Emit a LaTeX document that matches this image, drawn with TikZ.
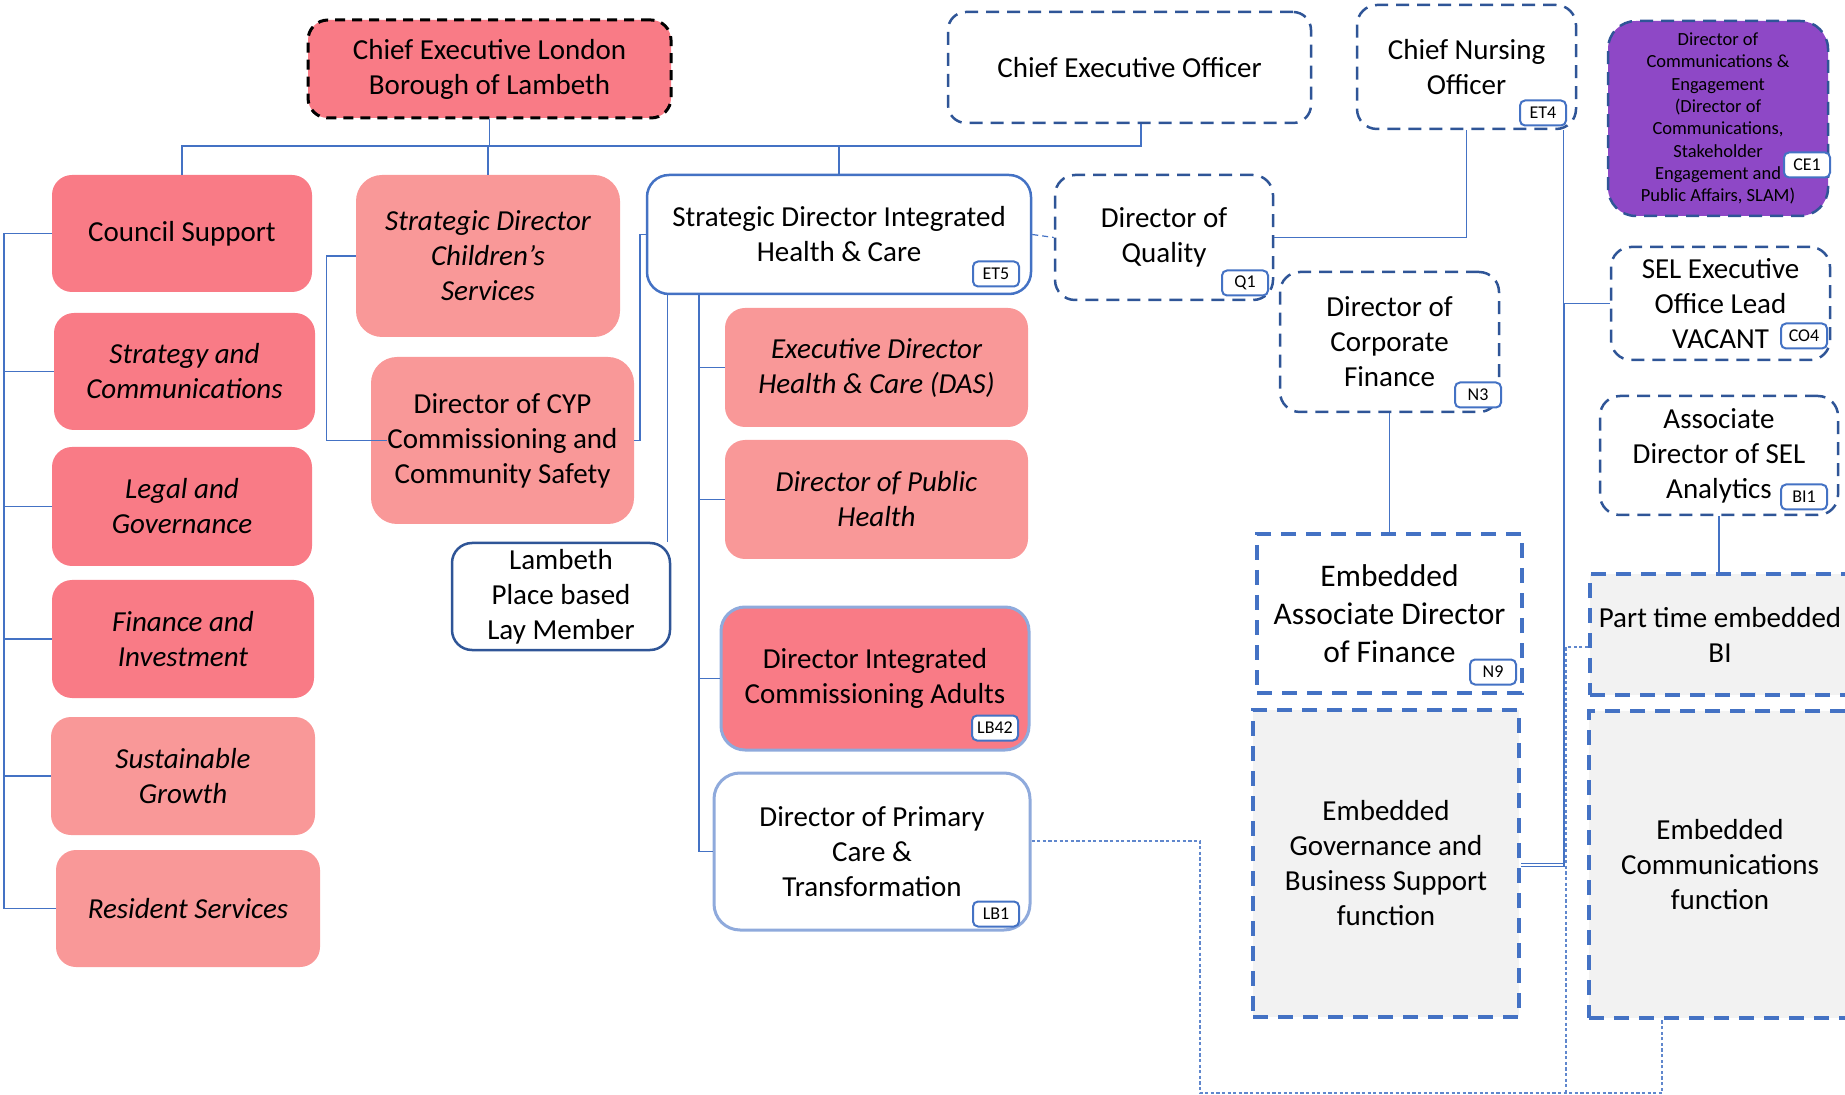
\documentclass[tikz,border=0pt]{standalone}
\usepackage{fontspec}
\setmainfont{Carlito}
\newcommand\fmain{\fontsize{14.5}{17.5}\selectfont}
\newcommand\fbig{\fontsize{15.75}{19}\selectfont}
\newcommand\fsmall{\fontsize{9.25}{11.15}\selectfont}
\newcommand\fbadge{\fontsize{9}{10}\selectfont}
\definecolor{pinkD}{HTML}{F97B86}
\definecolor{pinkL}{HTML}{F99898}
\definecolor{lnblue}{HTML}{4472C4}
\definecolor{dkblue}{HTML}{2F5597}
\definecolor{ltblue}{HTML}{8FAADC}
\definecolor{grayf}{HTML}{F2F2F2}
\definecolor{purp}{HTML}{8E48C6}
\begin{document}
\begin{tikzpicture}[x=0.5pt,y=-0.5pt,
  box/.style={align=center, inner sep=0pt, font=\fmain, text=black, rounded corners=10pt},
  pinkdark/.style={box, fill=pinkD},
  pinklight/.style={box, fill=pinkL},
  itbox/.style={font=\fmain\itshape},
  dashbox/.style={box, fill=white, draw=dkblue, line width=1.25pt, dash pattern=on 6.5pt off 4pt},
  embbox/.style={box, sharp corners, draw=lnblue, line width=2pt, dash pattern=on 7.5pt off 5pt},
  badge/.style={draw=lnblue, line width=1pt, fill=white, rounded corners=2.5pt, inner sep=0pt,
    minimum width=23pt, minimum height=12.5pt, font=\fbadge, text=black},
  conn/.style={draw=lnblue, line width=0.75pt},
  dashconn/.style={draw=lnblue, line width=0.6pt, dash pattern=on 3pt off 2pt},
  dotconn/.style={draw=lnblue!85, line width=0.6pt, dash pattern=on 1.6pt off 1.2pt}
]
\useasboundingbox (0,0) rectangle (1845,1095);
\clip (0,0) rectangle (1845,1095);

% ---- top row
\node[pinkdark, draw=black, line width=1.5pt, dash pattern=on 5pt off 3.5pt,
  minimum width=181.5pt, minimum height=49pt] (CEL) at (489.5,69) {Chief Executive London\\Borough of Lambeth};
\node[dashbox, rounded corners=9pt, minimum width=181.5pt, minimum height=55.5pt] (CEO) at (1129.5,67.5) {Chief Executive Officer};
\node[dashbox, minimum width=109.5pt, minimum height=62pt] (CNO) at (1466.5,67) {Chief Nursing\\Officer};
\node[dashbox, fill=purp, rounded corners=14pt, font=\fsmall, minimum width=110pt, minimum height=97.5pt] (DCE) at (1718,118.5)
  {Director of\\Communications \&\\Engagement\\(Director of\\Communications,\\Stakeholder\\Engagement and\\Public Affairs, SLAM)};

% ---- left column
\node[pinkdark, minimum width=130pt, minimum height=58.5pt] (CS) at (182,233.5) {Council Support};
\node[pinkdark, itbox, minimum width=130.5pt, minimum height=58.5pt] (SC) at (184.5,371.5) {Strategy and\\Communications};
\node[pinkdark, itbox, minimum width=130pt, minimum height=59.5pt] (LG) at (182,506.5) {Legal and\\Governance};
\node[pinkdark, itbox, minimum width=131pt, minimum height=59pt] (FI) at (183,639) {Finance and\\Investment};
\node[pinklight, itbox, minimum width=132pt, minimum height=59pt] (SG) at (183,776) {Sustainable\\Growth};
\node[pinklight, itbox, minimum width=132pt, minimum height=58.5pt] (RS) at (188,908.5) {Resident Services};

% ---- second column
\node[pinklight, itbox, rounded corners=13pt, minimum width=132pt, minimum height=81pt] (SDCS) at (488,256) {Strategic Director\\Children’s\\Services};
\node[pinklight, rounded corners=13pt, minimum width=131.5pt, minimum height=83.5pt] (CYP) at (502.5,440.5) {Director of CYP\\Commissioning and\\Community Safety};
\node[box, fill=white, draw=dkblue, line width=1.25pt, minimum width=109pt, minimum height=53.5pt] (LAY) at (561,596.5) {Lambeth\\Place based\\Lay Member};

% ---- third column
\node[box, fill=white, draw=lnblue, line width=1.25pt, rounded corners=11pt, minimum width=192pt, minimum height=59.5pt] (SDIHC) at (839,234.5) {Strategic Director Integrated\\Health \& Care};
\node[pinklight, itbox, minimum width=151.5pt, minimum height=59.5pt] (EDHC) at (876.5,367.5) {Executive Director\\Health \& Care (DAS)};
\node[pinklight, itbox, minimum width=151.5pt, minimum height=59.5pt] (DPH) at (876.5,499.5) {Director of Public\\Health};
\node[pinkdark, draw=ltblue, line width=1.5pt, rounded corners=12pt, minimum width=154pt, minimum height=71.5pt] (DICA) at (875,678.5) {Director Integrated\\Commissioning Adults};
\node[box, fill=white, draw=ltblue, line width=1.5pt, rounded corners=13pt, minimum width=158pt, minimum height=78.5pt] (DPCT) at (872,851.5) {Director of Primary\\Care \&\\Transformation};

% ---- right area
\node[dashbox, minimum width=109pt, minimum height=62.5pt] (DQ) at (1164,237.5) {Director of\\Quality};
\node[dashbox, minimum width=109.5pt, minimum height=70pt] (DCF) at (1389.5,342) {Director of\\Corporate\\Finance};
\node[dashbox, minimum width=109.5pt, minimum height=56.5pt] (SEL) at (1720.5,303.5) {SEL Executive\\Office Lead\\VACANT};
\node[dashbox, minimum width=119pt, minimum height=59.5pt] (ADSA) at (1719,455.5) {Associate\\Director of SEL\\Analytics};
\node[embbox, fill=white, font=\fbig, minimum width=132.5pt, minimum height=79.5pt] (EADF) at (1389.5,613.5) {Embedded\\Associate Director\\of Finance};
\node[embbox, fill=grayf, minimum width=133pt, minimum height=153.5pt] (EGBS) at (1386,863.5) {Embedded\\Governance and\\Business Support\\function};
\node[embbox, fill=grayf, minimum width=130pt, minimum height=60.5pt] (PTBI) at (1720,634.5) {Part time embedded\\BI};
\node[embbox, fill=grayf, minimum width=131pt, minimum height=153.5pt] (ECF) at (1720,864.5) {Embedded\\Communications\\function};

% ---- badges
\node[badge] (bET5) at (996,274) {ET5};
\node[badge] (bLB42) at (995,728) {LB42};
\node[badge] (bLB1) at (996,914) {LB1};
\node[badge] (bQ1) at (1245,283) {Q1};
\node[badge] (bET4) at (1543,113) {ET4};
\node[badge] (bN3) at (1478,395) {N3};
\node[badge] (bCE1) at (1807,165) {CE1};
\node[badge] (bCO4) at (1804,336) {CO4};
\node[badge] (bBI1) at (1804,497) {BI1};
\node[badge] (bN9) at (1493,672) {N9};

% ---- helper coordinates
\coordinate (tbus) at (0,146);
\coordinate (lbus) at (4,0);
\coordinate (spine) at (699,0);
\coordinate (ceoC) at ([xshift=5.75pt]CEO.south);
\coordinate (layTop) at ([xshift=-2pt]LAY.north east);
\coordinate (cnoR) at ([xshift=-7pt]CNO.south east);
\coordinate (dv) at (1200,1093);
\coordinate (pv) at (1566,1093);
\coordinate (ptw) at ([yshift=-6.25pt]PTBI.west);
\coordinate (dpe) at ([yshift=5.25pt]DPCT.east);
\coordinate (ecb) at ([xshift=-29pt]ECF.south);

% ---- top bus
\draw[conn] (CEL.south) -- (CEL.south |- tbus);
\draw[conn] (CS.north) |- (ceoC |- tbus) -- (ceoC);
\draw[conn] (SDCS.north) -- (SDCS.north |- tbus);
\draw[conn] (SDIHC.north) -- (SDIHC.north |- tbus);

% ---- left bus
\draw[conn] (CS.west) -- (CS.west -| lbus) |- (RS.west);
\draw[conn] (SC.west) -- (SC.west -| lbus);
\draw[conn] (LG.west) -- (LG.west -| lbus);
\draw[conn] (FI.west) -- (FI.west -| lbus);
\draw[conn] (SG.west) -- (SG.west -| lbus);

% ---- children's / integrated care
\draw[conn] (SDCS.west) -- ++(-29,0) |- ([xshift=8pt]CYP.west);
\draw[conn] (SDIHC.west) -- ++(-6,0) |- (CYP.east);
\draw[conn] (SDIHC.south -| layTop) -- (layTop);
\draw[conn] (SDIHC.south -| spine) |- (DPCT.west);
\draw[conn] (EDHC.west -| spine) -- (EDHC.west);
\draw[conn] (DPH.west -| spine) -- (DPH.west);
\draw[conn] (DICA.west -| spine) -- (DICA.west);
\draw[dashconn] (SDIHC.east) -- (DQ.west);

% ---- right side
\draw[conn] (CNO.south) |- (DQ.east);
\draw[conn] (cnoR) |- (EGBS.east);
\draw[conn] (SEL.west) -- ++(-46,0) |- ([yshift=-1.5pt]EGBS.east);
\draw[conn] (DCF.south) -- (EADF.north);
\draw[conn] (ADSA.south) -- (ADSA.south |- PTBI.north);
\draw[dotconn] (dpe) -| (dv) -| (ecb);
\draw[dotconn] (ptw) -| (pv);
\end{tikzpicture}
\end{document}
